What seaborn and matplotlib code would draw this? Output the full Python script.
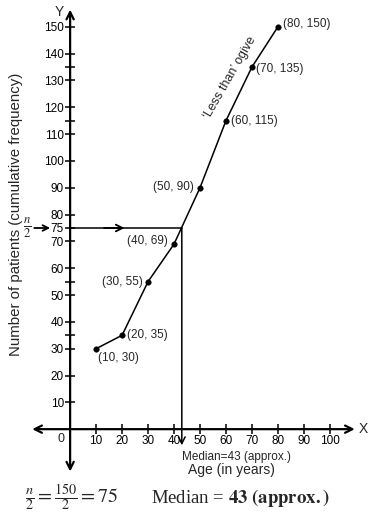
import matplotlib
matplotlib.use("Agg")
from matplotlib import pyplot as plt
import pandas as pd
import seaborn as sns

ages = [10, 20, 30, 40, 50, 60, 70, 80]
cum_freq = [30, 35, 55, 69, 90, 115, 135, 150]
n_total = 150
median_age = 43
x_ticks = [10, 20, 30, 40, 50, 60, 70, 80, 90, 100]
y_ticks = [10, 20, 30, 40, 50, 60, 70, 75, 80, 90, 100, 110, 120, 130, 140, 150]
y_minor = [35, 55, 115, 135]

# label placement (pixel offsets from each point, alignment)
label_offsets = [(2, -9, "left"), (5, 0, "left"), (-5, 0, "right"), (-6, 3, "right"),
                 (-6, 1, "right"), (5, 0, "left"), (4, -2, "left"), (5, 3, "left")]

sns.set_style("white")
plt.rcParams["font.family"] = ["Liberation Sans", "DejaVu Sans"]
plt.rcParams["mathtext.fontset"] = "stix"

df = pd.DataFrame({"age": ages, "cf": cum_freq})

fig = plt.figure(figsize=(3.74, 5.15), dpi=100)
ax = fig.add_axes([0, 0, 1, 1])
ax.set_xlim(-27, 117)
ax.set_ylim(-32, 160)

# axes through the origin
for side in ["top", "right"]:
    ax.spines[side].set_visible(False)
ax.spines["left"].set_position(("data", 0))
ax.spines["bottom"].set_position(("data", 0))
ax.spines["left"].set_visible(False)
ax.spines["bottom"].set_visible(False)
arrow_kw = dict(arrowstyle="<->", lw=1.6, color="black", mutation_scale=13, shrinkA=0, shrinkB=0)
ax.annotate("", xy=(0, 156.4), xytext=(0, -15.8), arrowprops=arrow_kw)
ax.annotate("", xy=(109.6, 0), xytext=(-14.6, 0), arrowprops=arrow_kw)

ax.set_xticks(x_ticks)
ax.set_yticks(y_ticks)
ax.set_yticks(y_minor, minor=True)
ax.tick_params(axis="both", which="both", direction="inout", length=7, width=1.1,
               labelsize=8.5, pad=1, colors="black", bottom=True, left=True)
ax.tick_params(axis="x", pad=1)
ax.tick_params(axis="y", which="minor", length=7)

# ogive
sns.lineplot(data=df, x="age", y="cf", color="black", lw=1.1, ax=ax)
sns.scatterplot(data=df, x="age", y="cf", color="black", s=16, edgecolor="black", ax=ax, zorder=5)
ax.set_xlabel("")
ax.set_ylabel("")

for a, c, (dx, dy, ha) in zip(ages, cum_freq, label_offsets):
    ax.annotate(f"({a}, {c})", xy=(a, c), xytext=(dx * 0.72, dy * 0.72), textcoords="offset points",
                ha=ha, va="center", fontsize=8.5)

# median construction lines
half = n_total / 2
ax.plot([0, median_age], [half, half], color="black", lw=1.1)
ax.annotate("", xy=(22, half), xytext=(12, half),
            arrowprops=dict(arrowstyle="->", lw=1.3, color="black", mutation_scale=12))
ax.annotate("", xy=(median_age, -6), xytext=(median_age, half),
            arrowprops=dict(arrowstyle="->", lw=1.1, color="black", mutation_scale=12, shrinkA=0, shrinkB=0))
ax.annotate("", xy=(-7.7, half), xytext=(-13.8, half),
            arrowprops=dict(arrowstyle="->", lw=1.3, color="black", mutation_scale=10, shrinkA=0, shrinkB=0))
ax.text(-14.8, half, r"$\frac{n}{2}$", ha="right", va="center", fontsize=13)

# texts
ax.text(-2.5, 155.5, "Y", ha="right", va="center", fontsize=10)
ax.text(111, 0, "X", ha="left", va="center", fontsize=10)
ax.text(-2, -1.5, "0", ha="right", va="top", fontsize=9)
ax.text(-21, 80, "Number of patients (cumulative frequency)", rotation=90,
        ha="center", va="center", fontsize=10.8)
ax.text(61.5, 131, "\u2018Less than\u2019 ogive", rotation=60, ha="center", va="center", fontsize=9)
ax.text(64.2, -10.2, "Median=43 (approx.)", ha="center", va="center", fontsize=8.5)
ax.text(62, -15.2, "Age (in years)", ha="center", va="center", fontsize=10)

ax.text(-17.5, -25.5, r"$\frac{n}{2} = \frac{150}{2} = 75$", ha="left", va="center", fontsize=14.5)
ax.text(31, -25.5, r"Median = $\mathbf{43\ (approx.)}$", ha="left", va="center",
        fontsize=13.5, family="Liberation Serif")

fig.savefig("out.png", dpi=100)
